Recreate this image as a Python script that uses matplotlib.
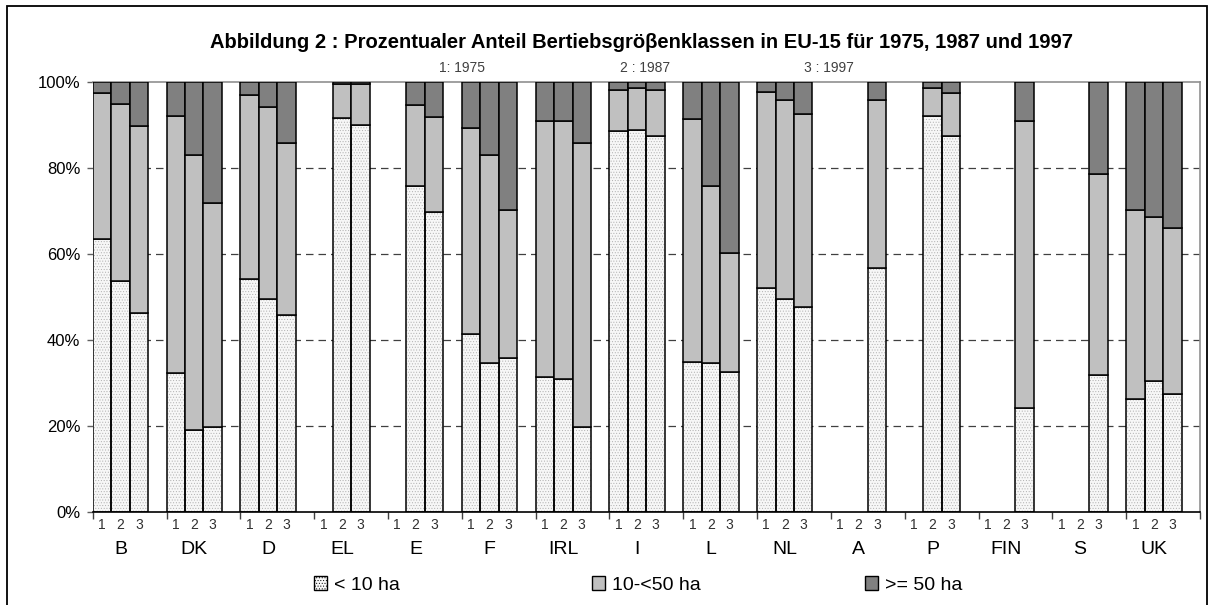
import matplotlib.pyplot as plt
import numpy as np
from matplotlib.patches import Patch, Rectangle

plt.rcParams['font.family'] = ['Liberation Sans', 'DejaVu Sans']
plt.rcParams['hatch.linewidth'] = 0.4

# country groups and the three survey years (1: 1975, 2: 1987, 3: 1997)
countries = ['B', 'DK', 'D', 'EL', 'E', 'F', 'IRL', 'I', 'L', 'NL', 'A', 'P', 'FIN', 'S', 'UK']
years = ['1', '2', '3']
nan = np.nan

# share of holdings < 10 ha (%), per country: 1975, 1987, 1997
small = [
    [63.6, 53.9, 46.3], [32.4, 19.2, 19.8], [54.3, 49.5, 45.8], [nan, 91.8, 90.1],
    [nan, 75.9, 69.8], [41.4, 34.7, 35.9], [31.5, 31.1, 19.8], [88.7, 89.0, 87.5],
    [35.0, 34.7, 32.7], [52.2, 49.5, 47.8], [nan, nan, 56.7], [nan, 92.2, 87.5],
    [nan, nan, 24.3], [nan, nan, 31.9], [26.3, 30.6, 27.5],
]
# share of holdings 10-<50 ha (%)
mid = [
    [33.8, 41.1, 43.6], [59.8, 63.9, 52.1], [42.8, 44.8, 40.1], [nan, 7.7, 9.4],
    [nan, 18.8, 22.1], [48.0, 48.4, 34.4], [59.5, 59.9, 66.1], [9.6, 9.7, 10.8],
    [56.5, 41.2, 27.7], [45.6, 46.3, 44.9], [nan, nan, 39.1], [nan, 6.5, 9.9],
    [nan, nan, 66.7], [nan, nan, 46.7], [44.0, 38.1, 38.7],
]
# share of holdings >= 50 ha (%)
large = [
    [2.6, 5.0, 10.1], [7.8, 16.9, 28.1], [2.9, 5.7, 14.1], [nan, 0.5, 0.5],
    [nan, 5.3, 8.1], [10.6, 16.9, 29.7], [9.0, 9.0, 14.1], [1.7, 1.3, 1.7],
    [8.5, 24.1, 39.6], [2.2, 4.2, 7.3], [nan, nan, 4.2], [nan, 1.3, 2.6],
    [nan, nan, 9.0], [nan, nan, 21.4], [29.7, 31.3, 33.8],
]
class_labels = ['< 10 ha', '10-<50 ha', '>= 50 ha']

fig = plt.figure(figsize=(12.11, 6.05), dpi=100)
ax = fig.add_axes([92.7 / 1211, 1 - 512.3 / 605, (1200 - 92.7) / 1211, 430 / 605])

slots = 4  # three bars + one empty slot per country
small_a = np.array(small)
mid_a = np.array(mid)
large_a = np.array(large)
xpos = np.array([[slots * g + k + 0.5 for k in range(3)] for g in range(len(countries))])

mask = ~np.isnan(small_a)
xs = xpos[mask]
s = small_a[mask]
m = mid_a[mask]
l = large_a[mask]

# dotted light fill for < 10 ha
ax.bar(xs, s, width=1.0, color='#f7f7f7', hatch='......', edgecolor='#b0b0b0', linewidth=0, zorder=2)
ax.bar(xs, s, width=1.0, fill=False, edgecolor='black', linewidth=1.1, zorder=3)
ax.bar(xs, m, width=1.0, bottom=s, color='#c0c0c0', edgecolor='black', linewidth=1.1, zorder=3)
ax.bar(xs, l, width=1.0, bottom=s + m, color='#808080', edgecolor='black', linewidth=1.1, zorder=3)

ax.set_xlim(0, slots * len(countries))
ax.set_ylim(0, 100)
ax.set_yticks(np.arange(0, 101, 20))
ax.set_yticklabels([f'{v}%' for v in range(0, 101, 20)], fontsize=12)
ax.tick_params(axis='y', direction='out', length=4, width=1, color='#606060', pad=5)
for yv in [20, 40, 60, 80]:
    ax.axhline(yv, color='#404040', linewidth=0.9, linestyle=(0, (6, 4)), zorder=1)

ax.set_xticks(np.arange(0, slots * len(countries) + 1, slots))
ax.set_xticklabels([])
ax.tick_params(axis='x', direction='out', length=5, width=1, color='#404040')

for sp in ['top', 'right', 'left']:
    ax.spines[sp].set_color('#909090')
    ax.spines[sp].set_linewidth(1.2)
ax.spines['left'].set_visible(False)
ax.spines['bottom'].set_color('black')
ax.spines['bottom'].set_linewidth(1.2)

trans = ax.get_xaxis_transform()
for g, c in enumerate(countries):
    for k, yr in enumerate(years):
        ax.text(xpos[g, k], -0.03, yr, transform=trans, ha='center', va='center',
                fontsize=10, color='#303030')
    ax.text(xpos[g, 1], -0.087, c, transform=trans, ha='center', va='center', fontsize=14)

fig.text(642 / 1211, 1 - 42 / 605,
         'Abbildung 2 : Prozentualer Anteil Bertiebsgröβenklassen in EU-15 für 1975, 1987 und 1997',
         ha='center', va='center', fontsize=14.5, fontweight='bold')
for xc, txt in zip([462, 645, 829], ['1: 1975', '2 : 1987', '3 : 1997']):
    fig.text(xc / 1211, 1 - 68 / 605, txt, ha='center', va='center', fontsize=10, color='#404040')

handles = [
    Patch(facecolor='#f7f7f7', edgecolor='black', hatch='......', linewidth=1),
    Patch(facecolor='#c0c0c0', edgecolor='black', linewidth=1),
    Patch(facecolor='#808080', edgecolor='black', linewidth=1),
]
for xl, h, lab in zip([304, 582, 855], handles, class_labels):
    leg = fig.legend([h], [lab], loc='center left', bbox_to_anchor=(xl / 1211, 1 - 585 / 605),
                     frameon=False, fontsize=14, handlelength=0.7, handleheight=0.7,
                     handletextpad=0.35, borderpad=0)

fig.add_artist(Rectangle((7 / 1211, -0.05), 1200 / 1211, 1.05 - 6 / 605, transform=fig.transFigure,
                         fill=False, edgecolor='black', linewidth=1.3, clip_on=False))

fig.savefig('out.png', dpi=100)
